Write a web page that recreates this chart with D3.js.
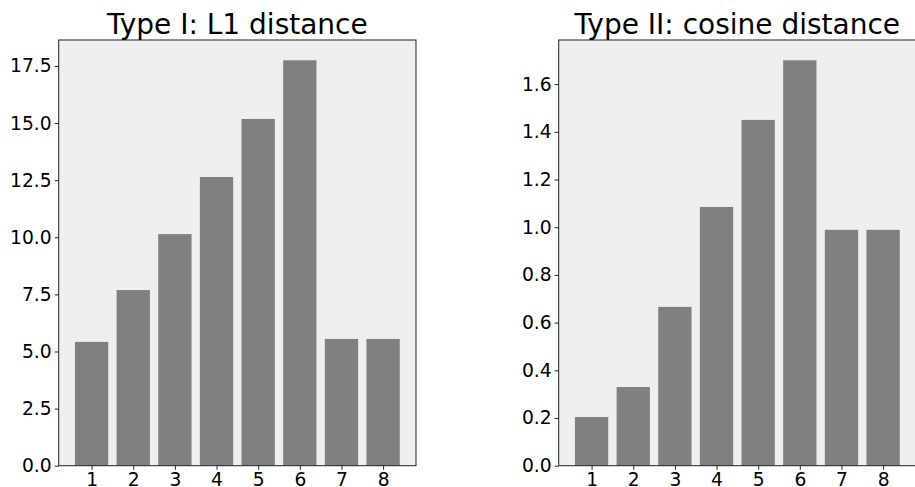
<!DOCTYPE html>
<html>
<head>
<meta charset="utf-8">
<script src="https://cdn.jsdelivr.net/npm/d3@7"></script>
<style>
  body { margin: 0; background: #fff; }
  svg { display: block; }
</style>
</head>
<body>
<div id="chart"></div>
<script>
// data
const categories = [1, 2, 3, 4, 5, 6, 7, 8];
const l1Values = [5.42, 7.69, 10.14, 12.64, 15.18, 17.75, 5.55, 5.55];
const cosineValues = [0.204, 0.330, 0.666, 1.085, 1.450, 1.700, 0.989, 0.989];
const l1Ticks = [0, 2.5, 5, 7.5, 10, 12.5, 15, 17.5];
const cosineTicks = [0, 0.2, 0.4, 0.6, 0.8, 1.0, 1.2, 1.4, 1.6];
const titles = ["Type I: L1 distance", "Type II: cosine distance"];

const WIDTH = 915;
const HEIGHT = 487;
const TOP = 40, BOTTOM = 465.7;
const PANEL_W = 357.3;
const PANEL_X = [58.7, 558.7];
const BAR_W = 0.8;

const svg = d3.select("#chart")
    .append("svg")
    .attr("width", WIDTH)
    .attr("height", HEIGHT)
    .style("font-family", "DejaVu Sans");

function panel(x0, values, ticks, title) {
    const g = svg.append("g").attr("transform", "translate(" + x0 + "," + TOP + ")");
    const h = BOTTOM - TOP;

    const x = d3.scaleLinear().domain([0.21, 8.79]).range([0, PANEL_W]);
    const y = d3.scaleLinear().domain([0, d3.max(values) * 1.05]).range([h, 0]);

    g.append("rect")
        .attr("width", PANEL_W)
        .attr("height", h)
        .attr("fill", "#efefef");

    g.selectAll("rect.bar")
        .data(values)
        .enter()
        .append("rect")
        .attr("class", "bar")
        .attr("x", (d, i) => x(categories[i] - BAR_W / 2))
        .attr("width", x(BAR_W) - x(0))
        .attr("y", d => y(d))
        .attr("height", d => h - y(d))
        .attr("fill", "#808080");

    // frame
    g.append("rect")
        .attr("width", PANEL_W)
        .attr("height", h)
        .attr("fill", "none")
        .attr("stroke", "#222")
        .attr("stroke-width", 1);

    const yAxis = g.append("g")
        .call(d3.axisLeft(y).tickValues(ticks).tickFormat(d3.format(".1f")).tickSize(4).tickPadding(3));
    const xAxis = g.append("g")
        .attr("transform", "translate(0," + h + ")")
        .call(d3.axisBottom(x).tickValues(categories).tickFormat(d3.format("d")).tickSize(4).tickPadding(3));

    [xAxis, yAxis].forEach(a => {
        a.select(".domain").remove();
        a.selectAll("line").attr("stroke", "#222");
        a.selectAll("text")
            .attr("fill", "#000")
            .style("font-family", "DejaVu Sans")
            .style("font-size", "18.7px");
    });

    svg.append("text")
        .attr("x", x0 + PANEL_W / 2)
        .attr("y", 34)
        .attr("text-anchor", "middle")
        .style("font-size", "28px")
        .attr("fill", "#000")
        .text(title);
}

panel(PANEL_X[0], l1Values, l1Ticks, titles[0]);
panel(PANEL_X[1], cosineValues, cosineTicks, titles[1]);
</script>
</body>
</html>
